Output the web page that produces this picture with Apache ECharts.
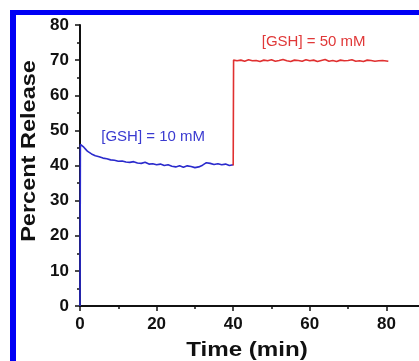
<!DOCTYPE html>
<html>
<head>
<meta charset="utf-8">
<script src="https://cdn.jsdelivr.net/npm/echarts@6/dist/echarts.min.js"></script>
<style>
  html, body { margin: 0; padding: 0; background: #fff; overflow: hidden; width: 419px; height: 361px; }
  /* canvas is wider than the window so the x axis runs off the right edge, as in the original */
  #chart { width: 466px; height: 361px; }
  #frame {
    position: absolute; left: 10px; top: 10px; width: 409px; height: 351px;
    border-left: 6px solid #0000f5; border-top: 5px solid #0000f5;
    pointer-events: none;
  }
</style>
</head>
<body>
<div id="chart"></div>
<div id="frame"></div>
<script>
// [GSH] = 10 mM segment (time in min, percent release)
const lowTime = [0, 0.1, 0.5, 1, 1.5, 2, 2.5, 3, 3.5, 4, 5, 6, 7, 8, 9, 10, 11, 12, 13, 14, 15, 16, 17, 18, 19, 20,
  21, 22, 23, 24, 25, 26, 27, 28, 29, 30, 31, 32, 33, 34, 35, 36, 37, 38, 39, 40];
const lowValue = [0, 46, 45.8, 45.2, 44.6, 44.0, 43.8, 43.3, 43.1, 42.8, 42.5, 42.1, 41.9, 41.6, 41.5, 41.2, 41.3, 41.0, 40.9, 41.1, 40.7, 40.6, 40.9, 40.4, 40.5, 40.2,
  40.4, 40.0, 40.2, 39.8, 39.6, 39.9, 39.5, 39.9, 39.7, 39.4, 39.6, 40.1, 40.8, 40.6, 40.3, 40.5, 40.2, 40.4, 40.0, 40.2];

// [GSH] = 50 mM segment
const highTime = [40, 40.1, 41, 42, 43, 44, 45, 46, 47, 48, 49, 50, 51, 52, 53, 54, 55, 56, 57, 58, 59, 60,
  61, 62, 63, 64, 65, 66, 67, 68, 69, 70, 71, 72, 73, 74, 75, 76, 77, 78, 79, 80.5];
const highValue = [40, 70, 69.8, 70.0, 69.7, 70.1, 69.8, 69.9, 69.6, 70.0, 69.8, 70.1, 69.7, 69.9, 70.2, 69.8, 69.6, 70.0, 69.9, 69.7, 70.1, 69.8,
  70.0, 69.6, 69.9, 70.2, 69.7, 69.9, 69.6, 70.0, 69.8, 69.9, 70.1, 69.7, 69.8, 69.6, 70.0, 69.9, 69.7, 69.8, 69.9, 69.7];

const xTicks = [0, 20, 40, 60, 80];
const yTicks = [0, 10, 20, 30, 40, 50, 60, 70, 80];

const zip = (xs, ys) => xs.map((x, i) => [x, ys[i]]);

const font = '"Liberation Sans", Arial, sans-serif';
const chart = echarts.init(document.getElementById('chart'));

const axisCommon = {
  axisLine: { show: true, lineStyle: { color: '#111', width: 2 } },
  axisTick: { show: true, length: 5, lineStyle: { color: '#111', width: 1.5 } },
  minorTick: { show: true, splitNumber: 2, length: 3, lineStyle: { color: '#111', width: 1.5 } },
  splitLine: { show: false },
  axisLabel: { color: '#111', fontFamily: font, fontWeight: 'bold', fontSize: 17 }
};

chart.setOption({
  animation: false,
  grid: { left: 80, top: 25, bottom: 55, right: 0 },
  xAxis: Object.assign({}, axisCommon, {
    type: 'value', min: 0, max: 100, interval: 20,
    axisLabel: Object.assign({}, axisCommon.axisLabel, {
      margin: 10,
      formatter: v => (xTicks.includes(v) ? String(v) : '')
    })
  }),
  yAxis: Object.assign({}, axisCommon, {
    type: 'value', min: 0, max: 80, interval: 10,
    axisLabel: Object.assign({}, axisCommon.axisLabel, {
      margin: 11,
      formatter: v => (yTicks.includes(v) ? String(v) : '')
    })
  }),
  graphic: [
    {
      type: 'text', x: 29, y: 151, rotation: Math.PI / 2, scaleX: 1.12,
      style: { text: 'Percent Release', fill: '#111', font: 'bold 21px ' + font, align: 'center', verticalAlign: 'middle' }
    },
    {
      type: 'text', x: 247, y: 350, scaleX: 1.15,
      style: { text: 'Time (min)', fill: '#111', font: 'bold 21px ' + font, align: 'center', verticalAlign: 'middle' }
    }
  ],
  series: [
    {
      type: 'line', data: zip(lowTime, lowValue), showSymbol: false,
      lineStyle: { color: '#2a2acc', width: 1.6 },
      markPoint: {
        symbol: 'circle', symbolSize: 0,
        label: { show: true, position: 'inside', formatter: '[GSH] = 10 mM', color: '#3a3ad0', fontFamily: font, fontSize: 15 },
        data: [{ coord: [19.1, 48.1] }]
      }
    },
    {
      type: 'line', data: zip(highTime, highValue), showSymbol: false,
      lineStyle: { color: '#e03030', width: 1.6 },
      markPoint: {
        symbol: 'circle', symbolSize: 0,
        label: { show: true, position: 'inside', formatter: '[GSH] = 50 mM', color: '#e03838', fontFamily: font, fontSize: 15 },
        data: [{ coord: [61, 75.1] }]
      }
    }
  ]
});
</script>
</body>
</html>
